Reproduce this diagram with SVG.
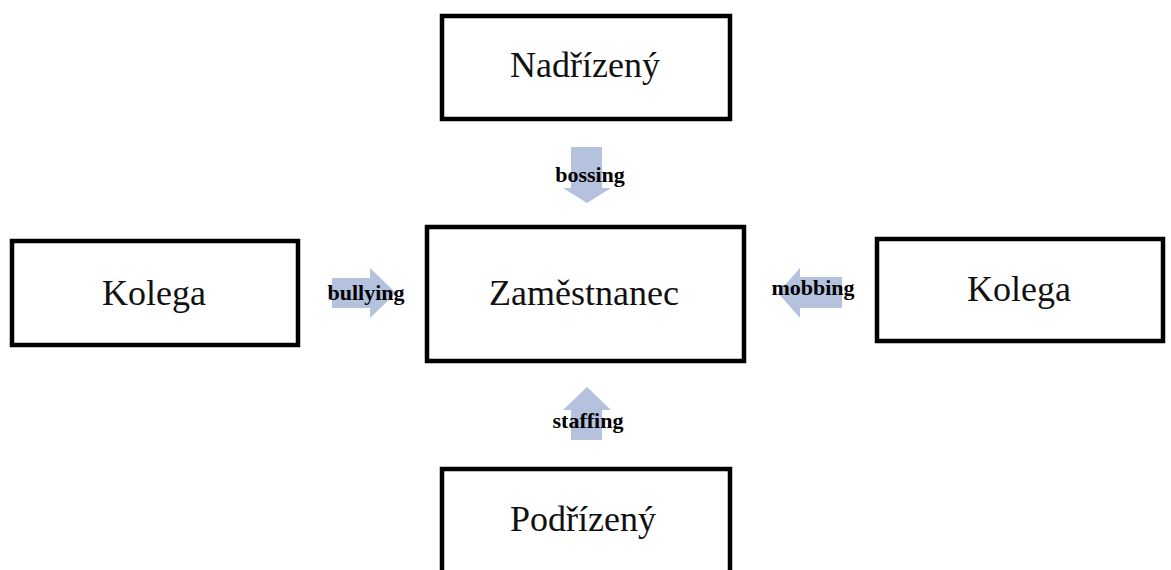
<svg xmlns="http://www.w3.org/2000/svg" width="1171" height="570" viewBox="0 0 1171 570">
<style>
.box{fill:#fff;stroke:#000;stroke-width:4.5}
.t{font-family:"Liberation Serif","Times New Roman",serif;font-size:36px;fill:#111;text-anchor:middle}
.arr{fill:#b4c2dd}
.lbl{font-family:"Liberation Serif","Times New Roman",serif;font-size:22px;font-weight:bold;fill:#000;text-anchor:middle}
</style>
<rect width="1171" height="570" fill="#fff"/>
<g id="connectors">
<g id="bossing">
<polygon class="arr" points="571,147 602,147 602,188 611,188 587,203 563,188 571,188"/>
<text class="lbl" x="590" y="182">bossing</text>
</g>
<g id="bullying">
<polygon class="arr" points="332,278 370,278 370,268 396,293 370,318 370,308 332,308"/>
<text class="lbl" x="366" y="300">bullying</text>
</g>
<g id="mobbing">
<polygon class="arr" points="842,277 800,277 800,268 778,293 800,318 800,308 842,308"/>
<text class="lbl" x="813" y="295">mobbing</text>
</g>
<g id="staffing">
<polygon class="arr" points="571,440 602,440 602,410 611,410 587,387 563,410 571,410"/>
<text class="lbl" x="588" y="428">staffing</text>
</g>
</g>
<g id="nadrizeny">
<rect class="box" x="442" y="16" width="288" height="103"/>
<text class="t" x="585" y="77">Nadřízený</text>
</g>
<g id="kolega-left">
<rect class="box" x="12" y="241" width="286" height="104"/>
<text class="t" x="154" y="305">Kolega</text>
</g>
<g id="zamestnanec">
<rect class="box" x="427" y="227" width="317" height="134"/>
<text class="t" x="584" y="305">Zaměstnanec</text>
</g>
<g id="kolega-right">
<rect class="box" x="877" y="239" width="286" height="102"/>
<text class="t" x="1019" y="301">Kolega</text>
</g>
<g id="podrizeny">
<rect class="box" x="442" y="469" width="288" height="120"/>
<text class="t" x="583" y="531">Podřízený</text>
</g>
</svg>
